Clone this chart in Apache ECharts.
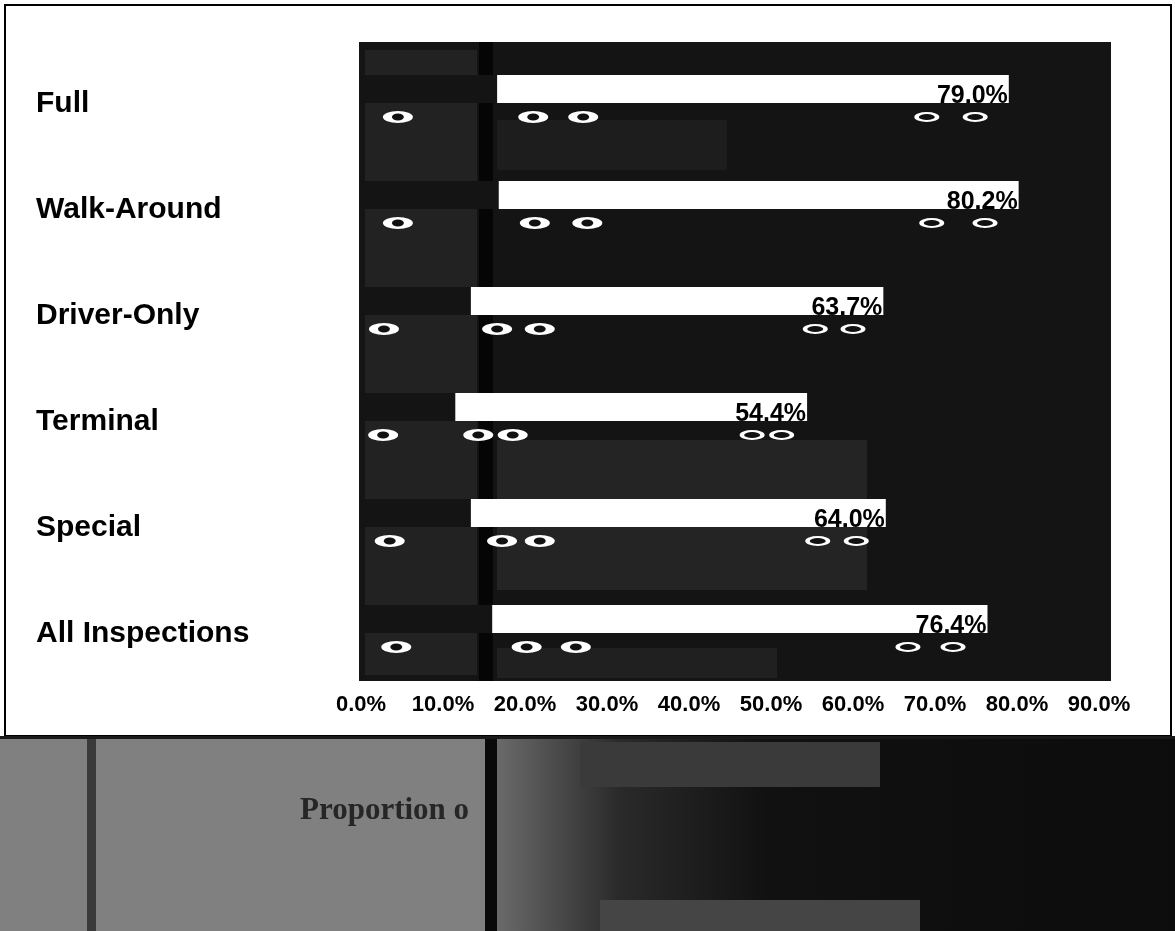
<!DOCTYPE html>
<html>
<head>
<meta charset="utf-8">
<script src="https://cdn.jsdelivr.net/npm/echarts@6/dist/echarts.min.js"></script>
<style>
  html, body { margin: 0; padding: 0; background: #ffffff; }
  #chart { width: 1175px; height: 931px; }
</style>
</head>
<body>
<div id="chart"></div>
<script>
// Inspection types, top to bottom
const categories = ['Full', 'Walk-Around', 'Driver-Only', 'Terminal', 'Special', 'All Inspections'];
// Share per inspection type (%)
const shareValues = [79.0, 80.2, 63.7, 54.4, 64.0, 76.4];
// Where the white part of each bar begins (the darker left part is shaded over)
const shadeEnds = [16.6, 16.8, 13.4, 11.5, 13.4, 16.0];
// Ellipse markers under each bar (% positions)
const markersLarge = [
  [4.5, 21.0, 27.1],
  [4.5, 21.2, 27.6],
  [2.8, 16.6, 21.8],
  [2.7, 14.3, 18.5],
  [3.5, 17.2, 21.8],
  [4.3, 20.2, 26.2]
];
const markersSmall = [
  [69.0, 74.9],
  [69.6, 76.1],
  [55.4, 60.0],
  [47.7, 51.3],
  [55.7, 60.4],
  [66.7, 72.2]
];
// Axis ticks
const axisMin = 0;
const axisMax = 90;
const axisStep = 10;
const footerTitle = 'Proportion o';

const FONT = 'Arial, "Liberation Sans", Helvetica, sans-serif';
const PLOT_BG = '#141414';
const ELLIPSE = 'path://M0,5A15,5,0,1,1,30,5A15,5,0,1,1,0,5Z';

function markerData(rows) {
  const out = [];
  rows.forEach((row, i) => row.forEach(v => out.push([v, categories[i]])));
  return out;
}

function markerSeries(rows, size, color, z) {
  return {
    type: 'scatter',
    data: markerData(rows),
    symbol: ELLIPSE,
    symbolSize: size,
    symbolOffset: [0, 28],
    itemStyle: { color: color, opacity: 1 },
    silent: true,
    z: z
  };
}

const chart = echarts.init(document.getElementById('chart'), null, { renderer: 'canvas' });

chart.setOption({
  backgroundColor: '#ffffff',
  animation: false,
  graphic: [
    // outer frame
    { type: 'rect', z: -10, shape: { x: 5, y: 5, width: 1166, height: 731 },
      style: { fill: '#ffffff', stroke: '#000000', lineWidth: 2 } },
    // plot area
    { type: 'rect', z: -9, shape: { x: 359, y: 42, width: 752, height: 639 },
      style: { fill: PLOT_BG } },
    // textured patches inside the plot area
    { type: 'rect', z: -8, shape: { x: 365, y: 50, width: 112, height: 625 },
      style: { fill: '#222222' } },
    { type: 'rect', z: -8, shape: { x: 497, y: 440, width: 370, height: 150 },
      style: { fill: '#242424' } },
    { type: 'rect', z: -8, shape: { x: 497, y: 120, width: 230, height: 50 },
      style: { fill: '#1d1d1d' } },
    { type: 'rect', z: -8, shape: { x: 497, y: 648, width: 280, height: 30 },
      style: { fill: '#202020' } },
    { type: 'rect', z: -7, shape: { x: 479, y: 42, width: 14, height: 639 },
      style: { fill: '#050505' } },
    // lower band
    { type: 'rect', z: -10, shape: { x: 0, y: 737, width: 1175, height: 194 },
      style: { fill: '#808080' } },
    { type: 'rect', z: -9, shape: { x: 497, y: 737, width: 678, height: 194 },
      style: { fill: new echarts.graphic.LinearGradient(0, 0, 1, 0, [
        { offset: 0, color: '#6a6a6a' },
        { offset: 0.18, color: '#2a2a2a' },
        { offset: 0.4, color: '#111111' },
        { offset: 1, color: '#0c0c0c' }
      ]) } },
    { type: 'rect', z: -8, shape: { x: 580, y: 742, width: 300, height: 45 },
      style: { fill: '#3a3a3a' } },
    { type: 'rect', z: -8, shape: { x: 600, y: 900, width: 320, height: 31 },
      style: { fill: '#454545' } },
    { type: 'rect', z: -8, shape: { x: 87, y: 737, width: 9, height: 194 },
      style: { fill: '#3a3a3a' } },
    { type: 'rect', z: -8, shape: { x: 485, y: 737, width: 12, height: 194 },
      style: { fill: '#0a0a0a' } },
    { type: 'rect', z: -8, shape: { x: 0, y: 736, width: 1175, height: 3 },
      style: { fill: '#1a1a1a' } },
    { type: 'text', z: -7, x: 300, y: 795,
      style: { text: footerTitle, fill: '#262626', font: 'bold 31px "Liberation Serif", "DejaVu Serif", serif' } }
  ],
  grid: { left: 361, right: 76, top: 36, bottom: 259, containLabel: false },
  xAxis: {
    type: 'value',
    min: axisMin,
    max: axisMax,
    interval: axisStep,
    axisLine: { show: false },
    axisTick: { show: false },
    splitLine: { show: false },
    axisLabel: {
      margin: 22,
      color: '#000000',
      fontFamily: FONT,
      fontWeight: 'bold',
      fontSize: 22,
      formatter: v => v.toFixed(1) + '%'
    }
  },
  yAxis: {
    type: 'category',
    data: categories,
    inverse: true,
    axisLine: { show: false },
    axisTick: { show: false },
    splitLine: { show: false },
    axisLabel: {
      align: 'left',
      verticalAlign: 'top',
      lineHeight: 30,
      margin: 325,
      color: '#000000',
      fontFamily: FONT,
      fontWeight: 'bold',
      fontSize: 30
    }
  },
  series: [
    {
      type: 'bar',
      data: shareValues,
      barWidth: 28,
      itemStyle: { color: '#ffffff' },
      label: {
        show: true,
        position: 'insideRight',
        distance: 1,
        offset: [0, 7],
        color: '#000000',
        fontFamily: FONT,
        fontWeight: 'bold',
        fontSize: 25,
        formatter: p => p.value.toFixed(1) + '%'
      },
      z: 2
    },
    {
      type: 'bar',
      data: shadeEnds,
      barWidth: 28,
      barGap: '-100%',
      itemStyle: { color: PLOT_BG },
      silent: true,
      z: 3
    },
    markerSeries(markersLarge, [30, 12], '#ffffff', 4),
    markerSeries(markersLarge, [12, 7], '#111111', 5),
    markerSeries(markersSmall, [25, 10], '#ffffff', 4),
    markerSeries(markersSmall, [16, 6], '#111111', 5)
  ]
});
</script>
</body>
</html>
